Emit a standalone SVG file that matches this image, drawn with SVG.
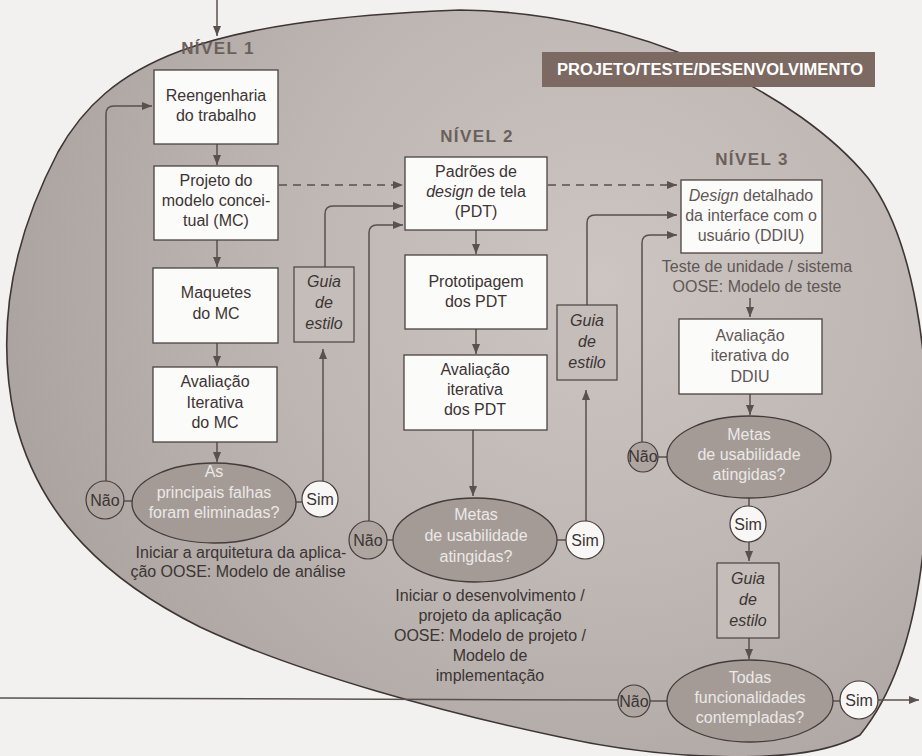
<svg xmlns="http://www.w3.org/2000/svg" width="922" height="756" viewBox="0 0 922 756">
  <defs>
    <radialGradient id="blobFill" cx="600" cy="280" r="640" gradientUnits="userSpaceOnUse">
      <stop offset="0" stop-color="#ccc5c2"/>
      <stop offset="0.5" stop-color="#beb6b3"/>
      <stop offset="1" stop-color="#a9a19e"/>
    </radialGradient>
    <marker id="arr" markerUnits="userSpaceOnUse" markerWidth="10" markerHeight="8" refX="10" refY="4" orient="auto">
      <path d="M0,0 L10,4 L0,8 z" fill="#5a504c"/>
    </marker>
    <style>
      text { font-family: "Liberation Sans", Arial, sans-serif; }
      .box { fill: #fbfbfa; stroke: #4a4240; stroke-width: 1.3; }
      .guia { fill: #c5bdba; stroke: #4a4240; stroke-width: 1.2; }
      .q { fill: #a49b97; stroke: #443c3a; stroke-width: 1.3; }
      .nao { fill: #aea5a1; stroke: #443c3a; stroke-width: 1.2; }
      .sim { fill: #f8f7f6; stroke: #443c3a; stroke-width: 1.2; }
      .t { font-size: 16px; fill: #3b3533; text-anchor: middle; }
      .t3 { font-size: 16px; fill: #5f5755; text-anchor: middle; }
      .it { font-style: italic; }
      .qt { font-size: 16px; fill: #ece8e6; text-anchor: middle; }
      .lvl { font-size: 17px; font-weight: bold; fill: #6b605c; text-anchor: middle; letter-spacing: 1.4px; }
      .c { fill: none; stroke: #5a504c; stroke-width: 1.5; }
      .d { fill: none; stroke: #5a504c; stroke-width: 1.5; stroke-dasharray: 8 6; }
    </style>
  </defs>

  <!-- page -->
  <rect x="0" y="0" width="922" height="756" fill="#f3f1f0"/>

  <!-- outer region -->
  <path id="region" d="M460,10 C640,12 800,95 868,178 C915,240 930,360 928,470 C926,590 905,680 860,735 C800,770 650,757 560,737 C450,714 300,674 200,627 C110,582 40,520 15,420 C-5,330 12,240 58,152 C108,62 200,20 460,10 Z" fill="url(#blobFill)" stroke="#3e3634" stroke-width="1.6"/>

  <!-- title bar -->
  <g id="titulo">
    <rect x="542" y="52" width="333" height="35" fill="#7c6a62"/>
    <text x="710" y="75" font-size="16" font-weight="bold" fill="#ffffff" text-anchor="middle" textLength="306" lengthAdjust="spacingAndGlyphs">PROJETO/TESTE/DESENVOLVIMENTO</text>
  </g>

  <!-- level headings -->
  <text class="lvl" x="218" y="54">NÍVEL 1</text>
  <text class="lvl" x="477" y="142">NÍVEL 2</text>
  <text class="lvl" x="752" y="165">NÍVEL 3</text>

  <!-- connectors -->
  <g id="connectors">
    <path class="c" d="M217,0 V36" marker-end="url(#arr)"/>
    <!-- level 1 -->
    <path class="c" d="M217,144 V165" marker-end="url(#arr)"/>
    <path class="c" d="M217,240 V267" marker-end="url(#arr)"/>
    <path class="c" d="M217,343 V366" marker-end="url(#arr)"/>
    <path class="c" d="M217,442 V462" marker-end="url(#arr)"/>
    <path class="c" d="M106,481 V114 Q106,106 114,106 H152" marker-end="url(#arr)"/>
    <path class="c" d="M124,501 H132"/>
    <path class="c" d="M295,502 H302"/>
    <path class="c" d="M323,481 V349" marker-end="url(#arr)"/>
    <path class="c" d="M325,267 V214 Q325,206 333,206 H403" marker-end="url(#arr)"/>
    <path class="d" d="M279,185 H403" marker-end="url(#arr)"/>
    <!-- level 2 -->
    <path class="c" d="M476,230 V254" marker-end="url(#arr)"/>
    <path class="c" d="M476,329 V354" marker-end="url(#arr)"/>
    <path class="c" d="M473,430 V496" marker-end="url(#arr)"/>
    <path class="c" d="M369,521 V233 Q369,225 377,225 H403" marker-end="url(#arr)"/>
    <path class="c" d="M387,540 H393"/>
    <path class="c" d="M556,540 H566"/>
    <path class="c" d="M586,521 V390" marker-end="url(#arr)"/>
    <path class="c" d="M587,305 V223 Q587,215 595,215 H677" marker-end="url(#arr)"/>
    <path class="d" d="M548,185 H677" marker-end="url(#arr)"/>
    <!-- level 3 -->
    <path class="c" d="M642,442 V243 Q642,235 650,235 H677" marker-end="url(#arr)"/>
    <path class="c" d="M750,298 V317" marker-end="url(#arr)"/>
    <path class="c" d="M750,394 V415" marker-end="url(#arr)"/>
    <path class="c" d="M658,457 H667"/>
    <path class="c" d="M749,498 V506"/>
    <path class="c" d="M749,542 V561" marker-end="url(#arr)"/>
    <path class="c" d="M749,638 V659" marker-end="url(#arr)"/>
    <path class="c" d="M0,698 L618,700"/>
    <path class="c" d="M650,701 H667"/>
    <path class="c" d="M833,701 H840"/>
    <path class="c" d="M878,700 H919" marker-end="url(#arr)"/>
  </g>

  <!-- level 1 nodes -->
  <g id="reengenharia">
    <rect class="box" x="154" y="70" width="124" height="74"/>
    <text class="t" x="216" y="101">Reengenharia</text>
    <text class="t" x="216" y="121">do trabalho</text>
  </g>
  <g id="projeto-mc">
    <rect class="box" x="154" y="166" width="124" height="74"/>
    <text class="t" x="216" y="186">Projeto do</text>
    <text class="t" x="216" y="206">modelo concei-</text>
    <text class="t" x="216" y="226">tual (MC)</text>
  </g>
  <g id="maquetes">
    <rect class="box" x="153" y="268" width="125" height="75"/>
    <text class="t" x="216" y="298">Maquetes</text>
    <text class="t" x="216" y="319">do MC</text>
  </g>
  <g id="avaliacao-mc">
    <rect class="box" x="153" y="367" width="124" height="75"/>
    <text class="t" x="215" y="387">Avaliação</text>
    <text class="t" x="215" y="408">Iterativa</text>
    <text class="t" x="215" y="428">do MC</text>
  </g>
  <g id="guia-1">
    <rect class="guia" x="294" y="267" width="60" height="75"/>
    <text class="t it" x="324" y="287">Guia</text>
    <text class="t it" x="324" y="308">de</text>
    <text class="t it" x="324" y="329">estilo</text>
  </g>
  <g id="falhas">
    <ellipse class="q" cx="214" cy="503" rx="82" ry="40"/>
    <text class="qt" x="214" y="477">As</text>
    <text class="qt" x="214" y="498">principais falhas</text>
    <text class="qt" x="214" y="518">foram eliminadas?</text>
  </g>
  <g id="nao-1">
    <circle class="nao" cx="105" cy="500" r="19"/>
    <text class="t" x="105" y="506">Não</text>
  </g>
  <g id="sim-1">
    <circle class="sim" cx="320" cy="499" r="18"/>
    <text class="t" x="320" y="505">Sim</text>
  </g>
  <g id="nota-1">
    <text class="t" x="241" y="558" fill="#4a4240">Iniciar a arquitetura da aplica-</text>
    <text class="t" x="238" y="577" fill="#4a4240">ção OOSE: Modelo de análise</text>
  </g>

  <!-- level 2 nodes -->
  <g id="pdt">
    <rect class="box" x="405" y="157" width="142" height="73"/>
    <text class="t" x="476" y="177">Padrões de</text>
    <text class="t" x="476" y="197"><tspan class="it">design</tspan> de tela</text>
    <text class="t" x="476" y="217">(PDT)</text>
  </g>
  <g id="prototipagem">
    <rect class="box" x="405" y="255" width="142" height="74"/>
    <text class="t" x="476" y="287">Prototipagem</text>
    <text class="t" x="476" y="307">dos PDT</text>
  </g>
  <g id="avaliacao-pdt">
    <rect class="box" x="404" y="355" width="143" height="75"/>
    <text class="t" x="475" y="375">Avaliação</text>
    <text class="t" x="475" y="395">iterativa</text>
    <text class="t" x="475" y="415">dos PDT</text>
  </g>
  <g id="guia-2">
    <rect class="guia" x="557" y="305" width="60" height="75"/>
    <text class="t it" x="587" y="326">Guia</text>
    <text class="t it" x="587" y="347">de</text>
    <text class="t it" x="587" y="368">estilo</text>
  </g>
  <g id="metas-2">
    <ellipse class="q" cx="475" cy="540" rx="82" ry="42"/>
    <text class="qt" x="476" y="520">Metas</text>
    <text class="qt" x="476" y="541">de usabilidade</text>
    <text class="qt" x="476" y="562">atingidas?</text>
  </g>
  <g id="nao-2">
    <circle class="nao" cx="368" cy="540" r="19"/>
    <text class="t" x="368" y="546">Não</text>
  </g>
  <g id="sim-2">
    <circle class="sim" cx="585" cy="540" r="19"/>
    <text class="t" x="585" y="546">Sim</text>
  </g>
  <g id="nota-2">
    <text class="t" x="490" y="601" fill="#4a4240">Iniciar o desenvolvimento /</text>
    <text class="t" x="490" y="621" fill="#4a4240">projeto da aplicação</text>
    <text class="t" x="490" y="641" fill="#4a4240">OOSE: Modelo de projeto /</text>
    <text class="t" x="490" y="661" fill="#4a4240">Modelo de</text>
    <text class="t" x="490" y="681" fill="#4a4240">implementação</text>
  </g>

  <!-- level 3 nodes -->
  <g id="ddiu">
    <rect class="box" x="681" y="180" width="141" height="73"/>
    <text class="t3" x="751" y="201"><tspan class="it">Design</tspan> detalhado</text>
    <text class="t3" x="751" y="221">da interface com o</text>
    <text class="t3" x="751" y="241">usuário (DDIU)</text>
  </g>
  <g id="nota-3">
    <text class="t3" x="757" y="272">Teste de unidade / sistema</text>
    <text class="t3" x="757" y="292">OOSE: Modelo de teste</text>
  </g>
  <g id="avaliacao-ddiu">
    <rect class="box" x="679" y="319" width="143" height="75"/>
    <text class="t3" x="750" y="341">Avaliação</text>
    <text class="t3" x="750" y="361">iterativa do</text>
    <text class="t3" x="750" y="382">DDIU</text>
  </g>
  <g id="metas-3">
    <ellipse class="q" cx="749" cy="457" rx="82" ry="41"/>
    <text class="qt" x="749" y="440">Metas</text>
    <text class="qt" x="749" y="460">de usabilidade</text>
    <text class="qt" x="749" y="480">atingidas?</text>
  </g>
  <g id="nao-3">
    <circle class="nao" cx="643" cy="457" r="15"/>
    <text class="t" x="643" y="462" font-size="14">Não</text>
  </g>
  <g id="sim-3">
    <circle class="sim" cx="748" cy="524" r="18"/>
    <text class="t" x="748" y="530">Sim</text>
  </g>
  <g id="guia-3">
    <rect class="guia" x="717" y="563" width="62" height="75"/>
    <text class="t it" x="748" y="584">Guia</text>
    <text class="t it" x="748" y="605">de</text>
    <text class="t it" x="748" y="626">estilo</text>
  </g>
  <g id="funcionalidades">
    <ellipse class="q" cx="750" cy="701" rx="83" ry="41"/>
    <text class="qt" x="750" y="683">Todas</text>
    <text class="qt" x="750" y="703">funcionalidades</text>
    <text class="qt" x="750" y="723">contempladas?</text>
  </g>
  <g id="nao-4">
    <circle class="nao" cx="634" cy="701" r="16"/>
    <text class="t" x="634" y="707" font-size="15">Não</text>
  </g>
  <g id="sim-4">
    <circle class="sim" cx="859" cy="700" r="19"/>
    <text class="t" x="859" y="706">Sim</text>
  </g>
</svg>
